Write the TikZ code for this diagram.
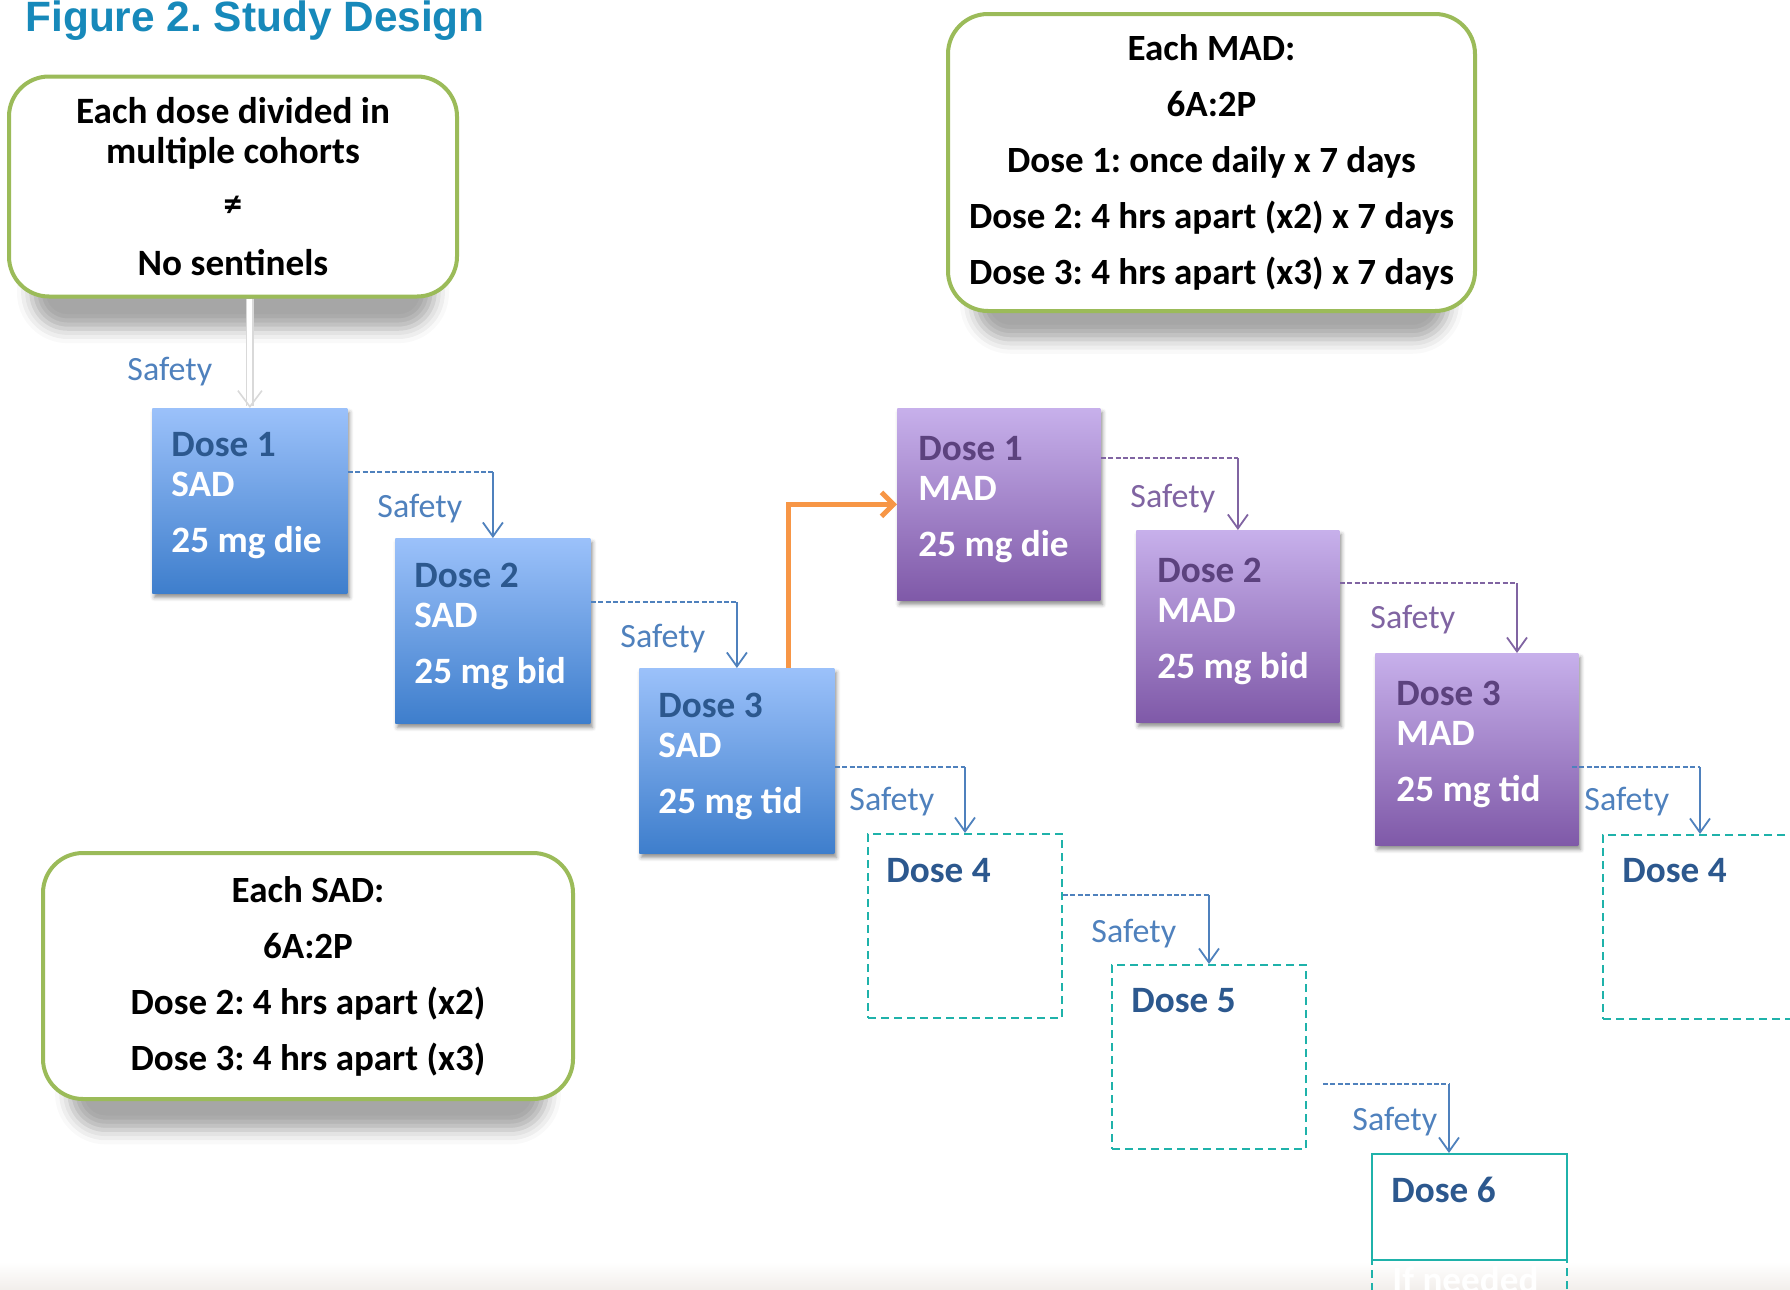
\documentclass[tikz,border=0pt]{standalone}
\usepackage{fontspec}
\setmainfont{Carlito}
\newfontfamily\titlefont{Liberation Sans}
\usetikzlibrary{arrows.meta,shadows.blur,positioning}
\frenchspacing

\definecolor{titleblue}{RGB}{23,137,186}
\definecolor{framegreen}{RGB}{155,187,89}
\definecolor{sadtop}{RGB}{155,193,250}
\definecolor{sadbot}{RGB}{62,126,204}
\definecolor{sadtxt}{RGB}{44,88,142}
\definecolor{madtop}{RGB}{199,176,235}
\definecolor{madbot}{RGB}{127,89,168}
\definecolor{madtxt}{RGB}{92,66,126}
\definecolor{safeblue}{RGB}{79,129,189}
\definecolor{safepurple}{RGB}{128,100,162}
\definecolor{extrateal}{RGB}{31,178,170}
\definecolor{arroworange}{RGB}{247,150,70}

\tikzset{
  infobox/.style={draw=framegreen, line width=2pt, rounded corners=20pt, fill=white,
    align=center, inner sep=0pt, font=\bfseries\fontsize{18.5}{28}\selectfont,
    blur shadow={shadow xshift=0pt, shadow yshift=-24pt, shadow scale=0.9,
      shadow blur radius=8pt, shadow opacity=35}},
  dosebox/.style={anchor=north west, inner ysep=0pt, align=flush left,
    execute at end node={\rule[-8pt]{0pt}{8pt}},
    font=\bfseries\fontsize{18.6}{20}\selectfont,
    blur shadow={shadow xshift=1pt, shadow yshift=-2pt, shadow blur radius=2pt, shadow opacity=45}},
  sadbox/.style={dosebox, top color=sadtop, bottom color=sadbot, text=sadtxt,
    inner xsep=9.5pt, text width=78.5pt, minimum height=92.5pt},
  madbox/.style={dosebox, top color=madtop, bottom color=madbot, text=madtxt,
    inner xsep=10.5pt, text width=80.5pt, minimum height=96pt},
  extrabox/.style={anchor=north west, draw=extrateal, line width=1pt, dash pattern=on 4pt off 2.5pt,
    minimum width=97pt, minimum height=92pt, inner sep=0pt},
  extratxt/.style={anchor=base west, inner sep=0pt, text=sadtxt, font=\bfseries\fontsize{18.6}{20}\selectfont},
  safedash/.style={safeblue, line width=0.9pt, dash pattern=on 2.5pt off 1.2pt},
  safearrow/.style={safeblue, line width=0.9pt, -{Straight Barb[length=7pt,width=10pt]}},
  safetylbl/.style={anchor=base west, inner sep=0pt, text=safeblue, font=\fontsize{17}{19}\selectfont},
  softarrow/.style={draw=gray!30, double=white, line width=0.8pt, double distance=2.5pt,
    -{Straight Barb[length=8pt,width=12pt]}},
  orangearrow/.style={arroworange, line width=2.5pt, -{Straight Barb[length=6pt,width=12pt]}}
}

\begin{document}
\begin{tikzpicture}[x=0.5pt, y=-0.5pt]
  \useasboundingbox (0,0) rectangle (1790,1290);
  \fill[top color=white, bottom color={rgb,255:red,242;green,238;blue,235}] (0,1262) rectangle (1790,1290);

  % Title
  \node[anchor=base west, inner sep=0pt, text=titleblue, font=\titlefont\bfseries\fontsize{21.2}{24}\selectfont]
    (title) at (25,32) {Figure 2. Study Design};

  % Info boxes
  \node[infobox, minimum width=224pt, minimum height=110pt, font=\bfseries\fontsize{18.6}{20}\selectfont]
    (cohorts) at (233,186.5) {Each dose divided in\\multiple cohorts\\[6.5pt]≠\\[9.5pt]No sentinels};
  \node[infobox, minimum width=263.5pt, minimum height=148.5pt] (madinfo) at (1211.5,162.5)
    {Each MAD:\\6A:2P\\Dose 1: once daily x 7 days\\Dose 2: 4 hrs apart (x2) x 7 days\\Dose 3: 4 hrs apart (x3) x 7 days};
  \node[infobox, minimum width=265pt, minimum height=123pt] (sadinfo) at (308,976)
    {Each SAD:\\6A:2P\\Dose 2: 4 hrs apart (x2)\\Dose 3: 4 hrs apart (x3)};

  % SAD doses
  \node[sadbox] (sad1) at (152,408) {Dose 1\\\textcolor{white}{SAD}\\[8pt]\textcolor{white}{25 mg die}};
  \node[sadbox] (sad2) at (395,538) {Dose 2\\\textcolor{white}{SAD}\\[8pt]\textcolor{white}{25 mg bid}};
  \node[sadbox] (sad3) at (639,668) {Dose 3\\\textcolor{white}{SAD}\\[8pt]\textcolor{white}{25 mg tid}};

  % MAD doses
  \node[madbox] (mad1) at (897,408) {Dose 1\\\textcolor{white}{MAD}\\[8pt]\textcolor{white}{25 mg die}};
  \node[madbox] (mad2) at (1136,530) {Dose 2\\\textcolor{white}{MAD}\\[8pt]\textcolor{white}{25 mg bid}};
  \node[madbox] (mad3) at (1375,653) {Dose 3\\\textcolor{white}{MAD}\\[8pt]\textcolor{white}{25 mg tid}};

  % Extra doses
  \node[extrabox] (d4) at (867,833) {};
  \node[extrabox] (d5) at (1111,964) {};
  \node[extrabox, dash pattern=, minimum width=97.5pt, minimum height=53pt] (d6) at (1371,1153) {};
  \node[extrabox, minimum width=97.5pt, minimum height=60pt] (ifneed) at (1371,1259) {};
  \node[extrabox] (d4r) at (1602,834) {};
  \node[extratxt] (t4) at ([xshift=9.5pt,yshift=-24.5pt]d4.north west) {Dose 4};
  \node[extratxt] (t5) at ([xshift=10pt,yshift=-24pt]d5.north west) {Dose 5};
  \node[extratxt] (t6) at ([xshift=10pt,yshift=-24.5pt]d6.north west) {Dose 6};
  \node[extratxt, text=white] (tif) at ([xshift=10.5pt,yshift=-16.5pt]ifneed.north west) {If needed};
  \node[extratxt] (t4r) at ([xshift=10pt,yshift=-24pt]d4r.north west) {Dose 4};

  % Safety steps
  \draw[softarrow] (cohorts.south -| sad1.north) -- (sad1.north);
  \node[safetylbl] (s0) at (127,380) {Safety};

  \coordinate (k1) at ([yshift=-32pt]sad1.north east);
  \draw[safedash] (k1) -- (k1 -| sad2.north);
  \draw[safearrow] (k1 -| sad2.north) -- (sad2.north);
  \node[safetylbl] (s1) at (377,517) {Safety};

  \coordinate (k2) at ([yshift=-32pt]sad2.north east);
  \draw[safedash] (k2) -- (k2 -| sad3.north);
  \draw[safearrow] (k2 -| sad3.north) -- (sad3.north);
  \node[safetylbl] (s2) at (620,647) {Safety};

  \coordinate (k3) at ([yshift=-49.5pt]sad3.north east);
  \draw[safedash] (k3) -- (k3 -| d4.north);
  \draw[safearrow] (k3 -| d4.north) -- (d4.north);
  \node[safetylbl] (s3) at (849,810) {Safety};

  \coordinate (k7) at ([yshift=-31pt]d4.north east);
  \draw[safedash] (k7) -- (k7 -| d5.north);
  \draw[safearrow] (k7 -| d5.north) -- (d5.north);
  \node[safetylbl] (s4) at (1091,942) {Safety};

  \coordinate (k8) at ([xshift=8pt,yshift=-60pt]d5.north east);
  \coordinate (d6in) at ([xshift=39pt]d6.north west);
  \draw[safedash] (k8) -- (k8 -| d6in);
  \draw[safearrow] (k8 -| d6in) -- (d6in);
  \node[safetylbl] (s5) at (1352,1130) {Safety};

  % SAD to MAD
  \draw[orangearrow] ([xshift=74.5pt]sad3.north west) |- (mad1.west);

  \coordinate (k4) at ([yshift=-25pt]mad1.north east);
  \draw[safedash, safepurple] (k4) -- (k4 -| mad2.north);
  \draw[safearrow, safepurple] (k4 -| mad2.north) -- (mad2.north);
  \node[safetylbl, text=safepurple] (m1) at (1130,507) {Safety};

  \coordinate (k5) at ([yshift=-26.5pt]mad2.north east);
  \coordinate (m3in) at ([xshift=71pt]mad3.north west);
  \draw[safedash, safepurple] (k5) -- (k5 -| m3in);
  \draw[safearrow, safepurple] (k5 -| m3in) -- (m3in);
  \node[safetylbl, text=safepurple] (m2) at (1370,628) {Safety};

  \coordinate (k6) at ([xshift=-3.5pt,yshift=-57pt]mad3.north east);
  \draw[safedash] (k6) -- (k6 -| d4r.north);
  \draw[safearrow] (k6 -| d4r.north) -- (d4r.north);
  \node[safetylbl] (m3) at (1584,810) {Safety};
\end{tikzpicture}
\end{document}
